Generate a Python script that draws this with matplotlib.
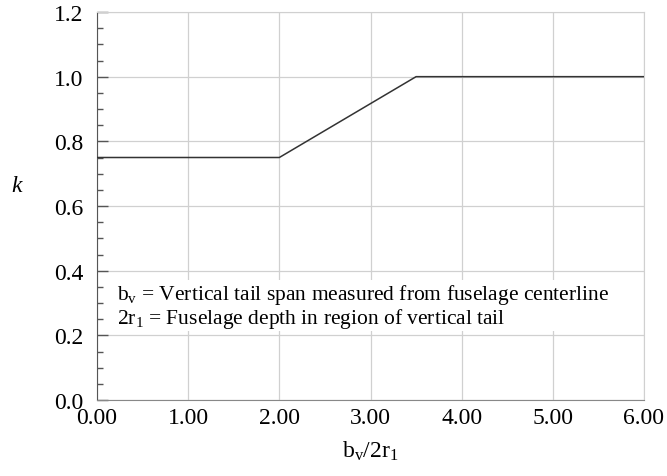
import matplotlib
matplotlib.use("Agg")
import matplotlib.pyplot as plt
from matplotlib.ticker import MultipleLocator, FormatStrFormatter

# curve k vs bv/2r1
ratio = [0.0, 2.0, 3.5, 6.0]
k_vals = [0.75, 0.75, 1.0, 1.0]

x_ticks = [0, 1, 2, 3, 4, 5, 6]
y_ticks = [0.0, 0.2, 0.4, 0.6, 0.8, 1.0, 1.2]

plt.rcParams['font.family'] = ['Liberation Serif', 'DejaVu Serif']
plt.rcParams['mathtext.fontset'] = 'custom'
plt.rcParams['mathtext.rm'] = 'Liberation Serif'
plt.rcParams['mathtext.it'] = 'Liberation Serif:italic'

fig = plt.figure(figsize=(6.67, 4.77), dpi=100)
ax = fig.add_axes([97 / 667, 1 - 401 / 477, (644 - 97) / 667, (401 - 13) / 477])

ax.plot(ratio, k_vals, color='#333333', linewidth=1.1, zorder=3)

ax.set_xlim(0, 6)
ax.set_ylim(0, 1.2)
ax.set_xticks(x_ticks)
ax.set_yticks(y_ticks)
ax.yaxis.set_minor_locator(MultipleLocator(0.05))
ax.xaxis.set_major_formatter(FormatStrFormatter('%.2f'))
ax.yaxis.set_major_formatter(FormatStrFormatter('%.1f'))

ax.grid(True, which='major', color='#d0d0d0', linewidth=0.9, zorder=0)
for side in ['top', 'right']:
    ax.spines[side].set_color('#d0d0d0')
ax.spines['left'].set_color('#555555')
ax.spines['bottom'].set_color('#888888')

ax.tick_params(axis='y', which='major', direction='in', length=8, width=1,
               color='#555555', labelsize=17, pad=10)
ax.tick_params(axis='y', which='minor', direction='in', length=4, width=1,
               color='#555555')
ax.tick_params(axis='x', which='major', length=0, labelsize=17, pad=5)

ax.set_xlabel(r'b$_\mathrm{v}$/2r$_\mathrm{1}$', fontsize=17, labelpad=8)
ax.set_ylabel('k', fontsize=17, style='italic', rotation=0, va='center', ha='center')
ax.yaxis.set_label_coords(-80 / 547, (401 - 187) / 388)

ax.text(0.037, 0.305,
        'b$_\\mathrm{v}$ = Vertical tail span measured from fuselage centerline\n'
        '2r$_\\mathrm{1}$ = Fuselage depth in region of vertical tail',
        transform=ax.transAxes, fontsize=15.5, va='top', ha='left',
        linespacing=1.0, zorder=4,
        bbox=dict(facecolor='white', edgecolor='none', pad=1))

fig.savefig('out.png', dpi=100)
